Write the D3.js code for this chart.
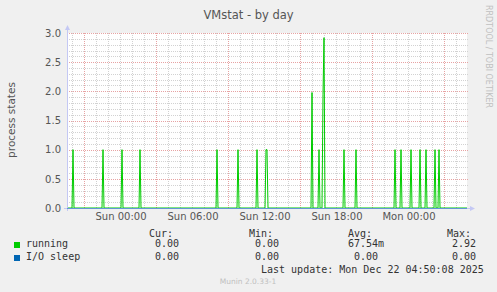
<!DOCTYPE html>
<html>
<head>
<meta charset="utf-8">
<script src="https://cdn.jsdelivr.net/npm/d3@7"></script>
<style>
  html, body { margin: 0; padding: 0; background: #f0f0f0; }
  svg { display: block; }
  text { font-family: "DejaVu Sans", sans-serif; }
  .mono { font-family: "DejaVu Sans Mono", monospace; font-size: 10px; fill: #333; }
</style>
</head>
<body>
<svg id="chart" width="497" height="292"></svg>
<script>
'use strict';

// data (5 minute samples, UTC)
const rangeStart = '2025-12-20T19:35';
const rangeEnd = '2025-12-22T04:55';

const runningTimes = [
  '2025-12-20T20:05', '2025-12-20T22:35', '2025-12-21T00:10', '2025-12-21T01:40',
  '2025-12-21T08:05', '2025-12-21T09:50', '2025-12-21T11:25', '2025-12-21T12:10',
  '2025-12-21T12:15', '2025-12-21T16:00', '2025-12-21T16:35', '2025-12-21T16:55',
  '2025-12-21T17:00', '2025-12-21T18:40', '2025-12-21T19:40', '2025-12-21T22:55',
  '2025-12-21T23:25', '2025-12-22T00:15', '2025-12-22T01:00', '2025-12-22T01:30',
  '2025-12-22T02:15', '2025-12-22T02:35'
];
const runningValues = [
  1, 1, 1, 1,
  1, 1, 1, 1,
  1, 1.98, 1, 1.95,
  2.92, 1, 1, 1,
  1, 1, 1, 1,
  1, 1
];
const ioSleepTimes = [rangeStart, rangeEnd];
const ioSleepValues = [0, 0];

const seriesNames = ['running', 'I/O sleep'];
const seriesColors = ['#00cc00', '#0066b3'];
const legendHeaders = ['Cur:', 'Min:', 'Avg:', 'Max:'];
const runningStats = ['0.00', '0.00', '67.54m', '2.92'];
const ioSleepStats = ['0.00', '0.00', '0.00', '0.00'];

const yTicks = [0, 0.5, 1.0, 1.5, 2.0, 2.5, 3.0];

const parse = d3.utcParse('%Y-%m-%dT%H:%M');

const svg = d3.select('#chart');
const plotLeft = 67, plotRight = 467, plotTop = 33, plotBottom = 208;

const x = d3.scaleUtc()
  .domain([parse(rangeStart), parse(rangeEnd)])
  .range([plotLeft, plotRight]);
const y = d3.scaleLinear()
  .domain([0, 3])
  .range([plotBottom, plotTop]);

// canvas
svg.append('rect')
  .attr('x', plotLeft).attr('y', plotTop)
  .attr('width', plotRight - plotLeft).attr('height', plotBottom - plotTop)
  .attr('fill', '#fff');

const grid = svg.append('g').attr('shape-rendering', 'crispEdges');

// horizontal grid
d3.range(1, 31).forEach(i => {
  const v = i / 10;
  const major = i % 5 === 0;
  grid.append('line')
    .attr('x1', plotLeft).attr('x2', plotRight + 1)
    .attr('y1', Math.round(y(v)) + 0.5).attr('y2', Math.round(y(v)) + 0.5)
    .attr('stroke', major ? '#e7a3a3' : '#d2d2d2')
    .attr('stroke-dasharray', '1,1');
});

// vertical grid
const hours = d3.utcHour.range(x.domain()[0], x.domain()[1]);
hours.forEach(h => {
  const major = h.getUTCHours() % 6 === 3;
  const px = Math.round(x(h)) + 0.5;
  grid.append('line')
    .attr('x1', px).attr('x2', px)
    .attr('y1', plotTop).attr('y2', plotBottom)
    .attr('stroke', major ? '#e7a3a3' : '#d2d2d2')
    .attr('stroke-dasharray', '1,1');
});

// y tick labels
svg.append('g').selectAll('text')
  .data(yTicks)
  .enter().append('text')
    .attr('x', 61)
    .attr('y', d => y(d) + 3.8)
    .attr('text-anchor', 'end')
    .attr('font-size', '10px')
    .attr('fill', '#555')
    .text(d => d.toFixed(1));

// x tick labels
const labelTimes = hours.filter(h => h.getUTCHours() % 6 === 0);
const fmt = d3.utcFormat('%a %H:%M');
svg.append('g').selectAll('text')
  .data(labelTimes)
  .enter().append('text')
    .attr('x', d => x(d) + 1)
    .attr('y', 220)
    .attr('text-anchor', 'middle')
    .attr('font-size', '10px')
    .attr('fill', '#555')
    .text(d => fmt(d));

// series
const samples = d3.utcMinute.every(5).range(parse(rangeStart), +parse(rangeEnd) + 1);
const runLookup = new Map(runningTimes.map((t, i) => [+parse(t), runningValues[i]]));
const runningData = samples.map(t => ({ t, v: runLookup.get(+t) || 0 }));
const ioData = ioSleepTimes.map((t, i) => ({ t: parse(t), v: ioSleepValues[i] }));

const line = d3.line().x(d => x(d.t)).y(d => y(d.v));

svg.append('path')
  .datum(runningData)
  .attr('d', line)
  .attr('fill', 'none')
  .attr('stroke', seriesColors[0])
  .attr('stroke-width', 1);

// axes
svg.append('line')
  .attr('x1', plotLeft + 0.5).attr('x2', plotLeft + 0.5)
  .attr('y1', plotBottom + 3).attr('y2', plotTop - 4)
  .attr('stroke', '#c4c8f4').attr('shape-rendering', 'crispEdges');
svg.append('path')
  .attr('d', `M${plotLeft - 2},${plotTop - 3} L${plotLeft + 3},${plotTop - 3} L${plotLeft + 0.5},${plotTop - 8} Z`)
  .attr('fill', '#c4c8f4');
svg.append('line')
  .attr('x1', plotLeft - 3).attr('x2', plotRight + 4)
  .attr('y1', plotBottom + 0.5).attr('y2', plotBottom + 0.5)
  .attr('stroke', '#c4c8f4').attr('shape-rendering', 'crispEdges');
svg.append('path')
  .attr('d', `M${plotRight + 3},${plotBottom - 2} L${plotRight + 3},${plotBottom + 3} L${plotRight + 8},${plotBottom + 0.5} Z`)
  .attr('fill', '#c4c8f4');

svg.append('path')
  .datum(ioData)
  .attr('d', line)
  .attr('transform', 'translate(0,0.5)')
  .attr('fill', 'none')
  .attr('stroke', seriesColors[1])
  .attr('stroke-opacity', 0.5)
  .attr('stroke-width', 1);

// title and axis label
svg.append('text')
  .attr('x', 248.5).attr('y', 18.5)
  .attr('text-anchor', 'middle')
  .attr('font-size', '11.5px')
  .attr('fill', '#555')
  .text('VMstat - by day');

svg.append('text')
  .attr('transform', 'translate(14.5,120) rotate(-90)')
  .attr('text-anchor', 'middle')
  .attr('font-size', '10.5px')
  .attr('fill', '#555')
  .text('process states');

svg.append('text')
  .attr('transform', 'translate(486,56.5) rotate(90)')
  .attr('text-anchor', 'middle')
  .attr('font-size', '8px')
  .attr('fill', '#c0c0c0')
  .text('RRDTOOL / TOBI OETIKER');

// legend
const headerX = [149, 249, 348, 447];
const statX = [[155, 255, 348, 452], [155, 255, 354, 452]];
const rowY = [247, 260];
const statRows = [runningStats, ioSleepStats];

svg.append('g').selectAll('text')
  .data(legendHeaders)
  .enter().append('text')
    .attr('class', 'mono')
    .attr('x', (d, i) => headerX[i])
    .attr('y', 236.5)
    .text(d => d);

seriesNames.forEach((name, r) => {
  svg.append('rect')
    .attr('x', 14).attr('y', rowY[r] - 5)
    .attr('width', 6).attr('height', 6)
    .attr('fill', seriesColors[r]);
  svg.append('text')
    .attr('class', 'mono')
    .attr('x', 26).attr('y', rowY[r])
    .text(name);
  statRows[r].forEach((s, i) => {
    svg.append('text')
      .attr('class', 'mono')
      .attr('x', statX[r][i]).attr('y', rowY[r])
      .text(s);
  });
});

svg.append('text')
  .attr('class', 'mono')
  .attr('x', 261).attr('y', 273)
  .text('Last update: Mon Dec 22 04:50:08 2025');

svg.append('text')
  .attr('x', 248).attr('y', 283.5)
  .attr('text-anchor', 'middle')
  .attr('font-size', '7.5px')
  .attr('fill', '#c0c0c0')
  .text('Munin 2.0.33-1');
</script>
</body>
</html>
